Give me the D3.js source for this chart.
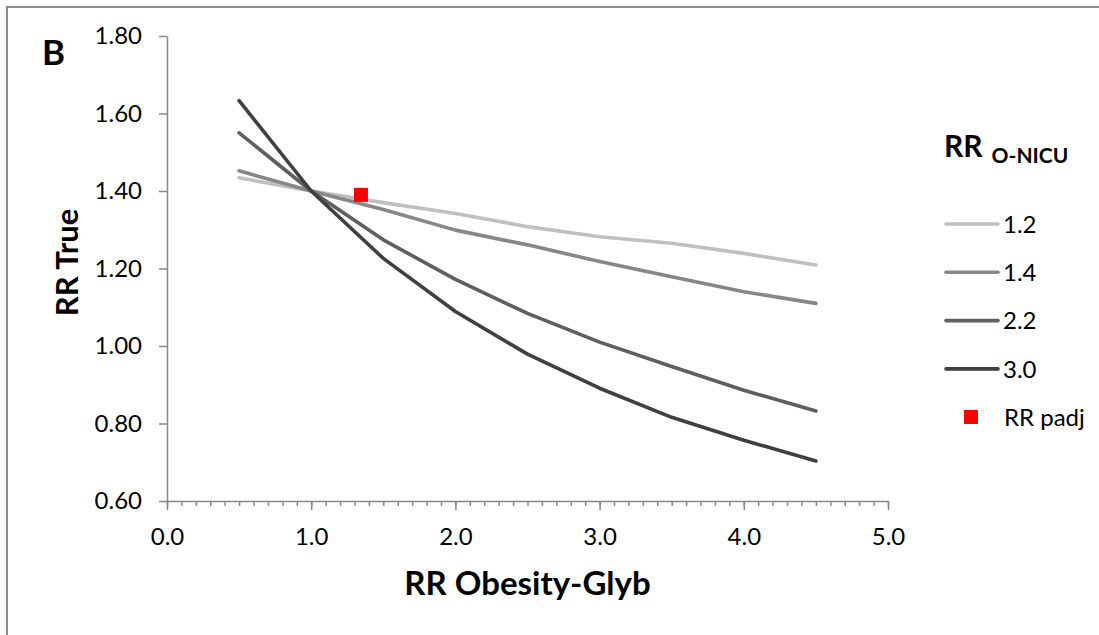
<!DOCTYPE html>
<html>
<head>
<meta charset="utf-8">
<script src="https://cdn.jsdelivr.net/npm/d3@7.9.0/dist/d3.min.js"></script>
<style>
  html, body { margin: 0; padding: 0; background: #fff; }
  svg { display: block; }
  text { font-family: Lato, "Open Sans", sans-serif; fill: #000; }
</style>
</head>
<body>
<svg id="chart" width="1099" height="635"></svg>
<script>
// data
const rrObesity = [0.5, 1.0, 1.5, 2.0, 2.5, 3.0, 3.5, 4.0, 4.5];
const seriesNames = ['1.2', '1.4', '2.2', '3.0'];
const rr12 = [1.434, 1.400, 1.370, 1.342, 1.308, 1.282, 1.265, 1.239, 1.209];
const rr14 = [1.452, 1.400, 1.352, 1.299, 1.261, 1.218, 1.179, 1.140, 1.110];
const rr22 = [1.550, 1.400, 1.274, 1.172, 1.084, 1.010, 0.947, 0.886, 0.832];
const rr30 = [1.633, 1.400, 1.226, 1.089, 0.979, 0.891, 0.816, 0.757, 0.703];
const padjX = [1.345];
const padjY = [1.39];
const xTicks = [0, 1, 2, 3, 4, 5];
const yTicks = [0.6, 0.8, 1.0, 1.2, 1.4, 1.6, 1.8];

const seriesValues = [rr12, rr14, rr22, rr30];
const colors = d3.scaleOrdinal(seriesNames, ['#c0c0c0', '#878787', '#5f5f5f', '#404040']);

const svg = d3.select('#chart');

// outer frame (only left/top edges show in the reference)
svg.append('rect')
  .attr('x', 7).attr('y', 7)
  .attr('width', 1110).attr('height', 650)
  .attr('fill', 'none')
  .attr('stroke', '#8c8c8c')
  .attr('stroke-width', 2);

let x = d3.scaleLinear().domain([0, 5]).range([167, 888]);
let y = d3.scaleLinear().domain([0.6, 1.8]).range([501, 36]);

const axisColor = '#888';

// x axis: minor ticks every 0.1, then the major ones
const xMinor = svg.append('g')
  .attr('transform', `translate(0,${y(0.6)})`)
  .call(d3.axisBottom(x).ticks(50).tickSize(5).tickFormat(''));
xMinor.select('.domain').remove();
xMinor.selectAll('line').attr('stroke', axisColor).attr('stroke-width', 1.5);

const xAxis = svg.append('g')
  .attr('transform', `translate(0,${y(0.6)})`)
  .call(d3.axisBottom(x).tickValues(xTicks).tickSizeInner(9).tickSizeOuter(0)
    .tickPadding(18).tickFormat(d3.format('.1f')));
xAxis.select('.domain').attr('stroke', axisColor).attr('stroke-width', 1.5);
xAxis.selectAll('line').attr('stroke', axisColor).attr('stroke-width', 1.5);
xAxis.selectAll('text')
  .attr('font-size', 24)
  .attr('font-family', 'Lato, "Open Sans", sans-serif')
  .attr('fill', '#000');

// y axis
const yAxis = svg.append('g')
  .attr('transform', `translate(${x(0)},0)`)
  .call(d3.axisLeft(y).tickValues(yTicks).tickSizeInner(8).tickSizeOuter(0)
    .tickPadding(17).tickFormat(d3.format('.2f')));
yAxis.select('.domain').attr('stroke', axisColor).attr('stroke-width', 1.5);
yAxis.selectAll('line').attr('stroke', axisColor).attr('stroke-width', 1.5);
yAxis.selectAll('text')
  .attr('font-size', 24)
  .attr('font-family', 'Lato, "Open Sans", sans-serif')
  .attr('fill', '#000');

// series lines
const line = d3.line()
  .x((d, i) => x(rrObesity[i]))
  .y((d) => y(d));

seriesValues.forEach((vals, i) => {
  svg.append('path')
    .attr('d', line(vals))
    .attr('fill', 'none')
    .attr('stroke', colors(seriesNames[i]))
    .attr('stroke-width', 3.6)
    .attr('stroke-linecap', 'round')
    .attr('stroke-linejoin', 'round');
});

// RR padj marker
padjX.forEach((px, i) => {
  svg.append('rect')
    .attr('x', x(px) - 7)
    .attr('y', y(padjY[i]) - 7)
    .attr('width', 14).attr('height', 14)
    .attr('fill', '#ff0000');
});

// axis titles
svg.append('text')
  .attr('x', x(2.5)).attr('y', 595)
  .attr('text-anchor', 'middle')
  .attr('font-size', 33)
  .attr('font-weight', 'bold')
  .text('RR Obesity-Glyb');

svg.append('text')
  .attr('transform', `translate(78,${y(1.2) - 6}) rotate(-90)`)
  .attr('text-anchor', 'middle')
  .attr('font-size', 31)
  .attr('font-weight', 'bold')
  .text('RR True');

// panel letter
svg.append('text')
  .attr('x', 42).attr('y', 65)
  .attr('font-family', '"Liberation Sans", Arial, sans-serif')
  .attr('font-size', 35)
  .attr('font-weight', 'bold')
  .text('B');

// legend
const legend = svg.append('g');
const title = legend.append('text')
  .attr('x', 944).attr('y', 157)
  .attr('font-weight', 'bold');
title.append('tspan').attr('font-size', 30).text('RR');
title.append('tspan').attr('font-size', 21).attr('dx', 9).attr('dy', 6).text('O-NICU');

seriesNames.forEach((name, i) => {
  const ly = 224 + i * 48.3;
  legend.append('line')
    .attr('x1', 946).attr('x2', 998)
    .attr('y1', ly).attr('y2', ly)
    .attr('stroke', colors(name))
    .attr('stroke-width', 3.6)
    .attr('stroke-linecap', 'round');
  legend.append('text')
    .attr('x', 1003).attr('y', ly)
    .attr('dy', '0.36em')
    .attr('font-size', 24)
    .text(name);
});

legend.append('rect')
  .attr('x', 964).attr('y', 410)
  .attr('width', 14).attr('height', 14)
  .attr('fill', '#ff0000');
legend.append('text')
  .attr('x', 1004).attr('y', 417)
  .attr('dy', '0.36em')
  .attr('font-size', 24)
  .text('RR padj');
</script>
</body>
</html>
